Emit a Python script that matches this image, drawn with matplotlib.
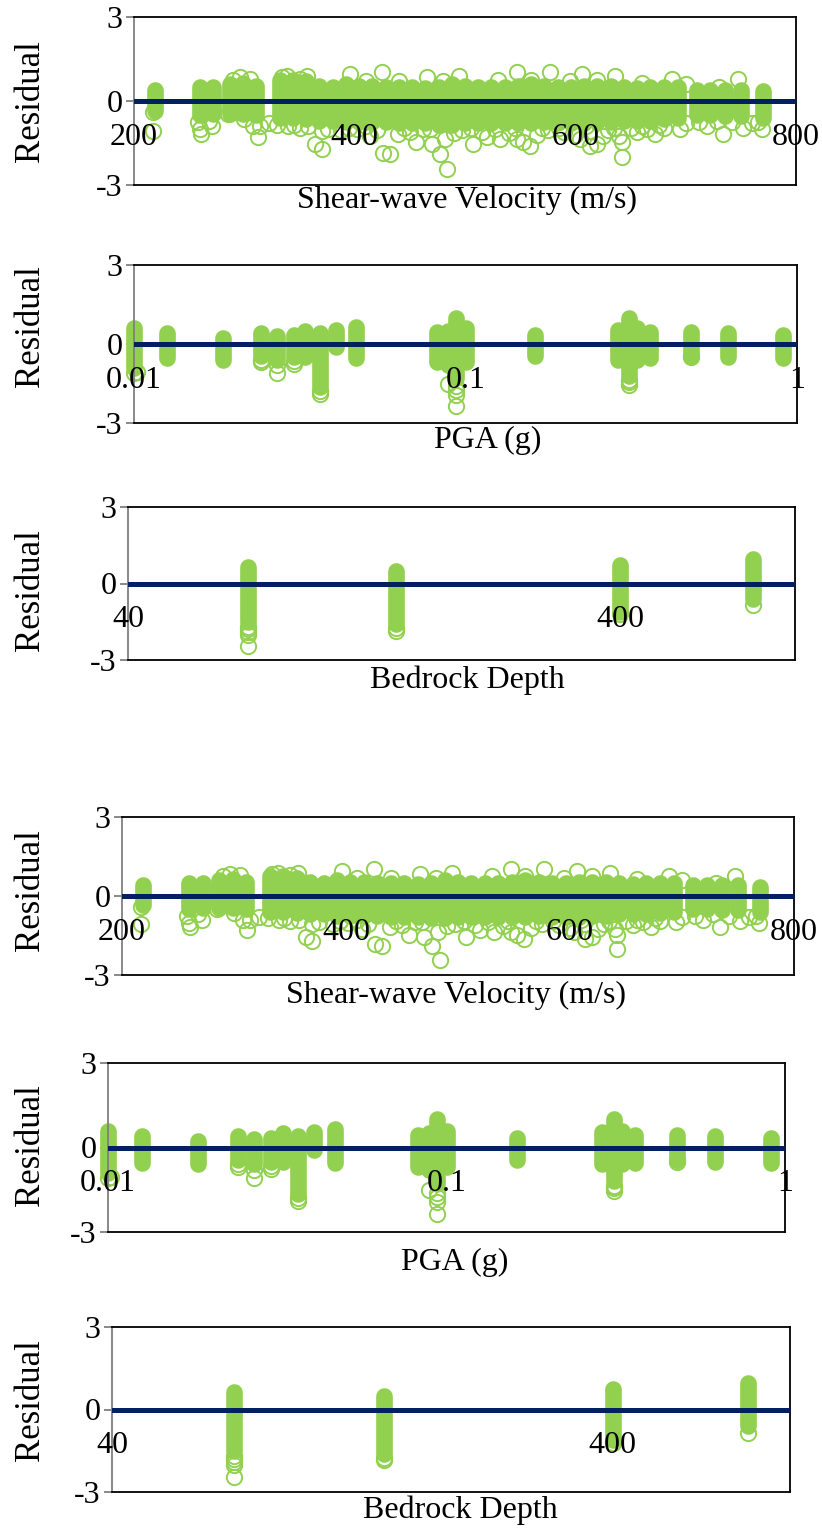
import numpy as np
import matplotlib
matplotlib.use("Agg")
from matplotlib import pyplot as plt

# ---- data ----
# shear-wave velocity panel: dense columns (centre, lowest, highest residual)
vs_col = [219, 260, 272, 287, 299, 311,
          332, 344, 356, 368, 380, 392, 404, 416, 428, 440,
          452, 464, 476, 488, 500, 512, 524, 536, 548, 560,
          572, 584, 596, 608, 620, 632, 644, 656, 668, 680, 693,
          710, 722, 736, 750, 770]
vs_hi = [0.4, 0.5, 0.5, 0.6, 0.65, 0.55,
         0.75, 0.75, 0.7, 0.55, 0.5, 0.6, 0.55, 0.55, 0.5, 0.5,
         0.5, 0.45, 0.5, 0.6, 0.55, 0.5, 0.5, 0.5, 0.55, 0.6,
         0.55, 0.5, 0.5, 0.55, 0.55, 0.55, 0.5, 0.45, 0.5, 0.5, 0.5,
         0.4, 0.4, 0.4, 0.4, 0.35]
vs_lo = [-0.35, -0.5, -0.45, -0.45, -0.45, -0.5,
         -0.6, -0.6, -0.65, -0.7, -0.7, -0.75, -0.75, -0.75, -0.75, -0.8,
         -0.8, -0.8, -0.85, -0.85, -0.8, -0.8, -0.8, -0.8, -0.8, -0.8,
         -0.75, -0.8, -0.8, -0.8, -0.75, -0.75, -0.7, -0.7, -0.7, -0.65, -0.6,
         -0.5, -0.5, -0.55, -0.55, -0.6]
# single circles standing out of the columns
vs_pt_x = [217, 217, 260, 261, 271, 285, 308, 312, 314, 364, 370, 370, 402, 414,
           426, 432, 439, 456, 470, 477, 482, 484, 507, 520, 532, 547, 553, 559,
           604, 613, 620, 625, 640, 642, 642, 656, 672, 719, 734, 752, 769,
           330, 340, 350, 376, 388, 420, 450, 462, 490, 497, 515, 540, 565, 575,
           590, 600, 630, 650, 665, 680, 695, 760, 712,
           258, 268, 300, 322, 345, 358, 395, 410, 445, 468, 505, 527, 545, 570,
           585, 610, 635, 660, 676, 700, 728, 742, 766,
           296, 339, 357, 396, 425, 466, 495, 547, 577, 606, 636, 688, 747,
           290, 305, 334, 350, 410, 440, 480, 530, 560, 595, 620, 660, 700, 730]
vs_pt_y = [-0.4, -1.07, -1.01, -1.19, -0.9, -0.48, -0.9, -1.3, -0.9, -1.55, -1.72, -1.08, -1.01, -1.26,
           -1.84, -1.9, -1.19, -1.48, -1.55, -1.9, -1.37, -2.44, -1.55, -1.3, -1.37, -1.37, -1.48, -1.62,
           -1.37, -1.62, -1.55, -1.26, -1.26, -1.48, -2.0, -1.12, -1.19, -0.9, -1.19, -0.95, -1.01,
           -0.85, -0.9, -0.95, -1.0, -1.05, -1.05, -1.1, -1.0, -1.15, -1.05, -1.1, -1.15, -1.2, -1.05,
           -1.1, -1.2, -1.05, -0.95, -1.0, -0.95, -1.0, -0.8, -0.75,
           -0.75, -0.7, -0.65, -0.8, -0.85, -0.9, -0.95, -0.9, -0.95, -1.0, -0.95, -1.0, -0.95, -0.95,
           -0.95, -0.9, -0.95, -0.9, -0.85, -0.8, -0.7, -0.75, -0.75,
           0.85, 0.88, 0.88, 0.95, 1.02, 0.85, 0.88, 1.02, 1.02, 0.95, 0.88, 0.77, 0.77,
           0.75, 0.8, 0.85, 0.8, 0.7, 0.7, 0.7, 0.75, 0.75, 0.7, 0.75, 0.65, 0.6, 0.5]

# PGA panel
pga_col = [0.0100, 0.0126, 0.0185, 0.0242, 0.0270, 0.0303, 0.0328, 0.0363, 0.0406, 0.0469,
           0.0822, 0.0886, 0.0935, 0.1005, 0.162, 0.288, 0.312, 0.330, 0.360, 0.480, 0.620, 0.910]
pga_hi = [0.6, 0.42, 0.22, 0.4, 0.3, 0.35, 0.5, 0.42, 0.55, 0.65,
          0.45, 0.5, 1.0, 0.6, 0.35, 0.55, 1.0, 0.6, 0.45, 0.45, 0.4, 0.35]
pga_lo = [-0.9, -0.55, -0.6, -0.45, -0.6, -0.5, -0.5, -1.65, -0.1, -0.55,
          -0.7, -0.8, -1.3, -0.7, -0.45, -0.6, -1.2, -0.6, -0.55, -0.4, -0.5, -0.55]
pga_pt_x = [0.0100, 0.0102, 0.0242, 0.0242, 0.0270, 0.0270, 0.0303, 0.0303, 0.0363, 0.0363,
            0.0886, 0.0935, 0.0935, 0.0935, 0.0935, 0.312, 0.312, 0.312, 0.480, 0.480]
pga_pt_y = [-1.1, -1.05, -0.7, -0.6, -0.8, -1.1, -0.65, -0.75, -1.8, -1.9,
            -1.5, -1.6, -1.75, -1.95, -2.35, -1.35, -1.45, -1.55, -0.5, -0.45]

# bedrock depth panel
bd_col = [70, 140, 400, 745]
bd_hi = [0.65, 0.5, 0.73, 0.95]
bd_lo = [-1.5, -1.6, -1.1, -0.6]
bd_pt_x = [70, 70, 70, 70, 70, 140, 140, 400, 745]
bd_pt_y = [-1.7, -1.8, -1.9, -2.0, -2.45, -1.75, -1.85, -1.2, -0.85]

vs_ticks, vs_labels = [200, 400, 600, 800], ["200", "400", "600", "800"]
pga_ticks, pga_labels = [0.01, 0.1, 1], ["0.01", "0.1", "1"]
bd_ticks, bd_labels = [40, 400], ["40", "400"]

GREEN = "#92D050"
NAVY = "#002060"
plt.rcParams["font.family"] = ["Liberation Serif", "DejaVu Serif"]

W, H = 822, 1533
fig = plt.figure(figsize=(W / 100, H / 100), dpi=100)


def panel(box, cols, lo, hi, px, py, xlim, ticks, labels, xlabel, xlab_at, ylab_at, log=False):
    l, t, r, b = box
    ax = fig.add_axes([l / W, 1 - b / H, (r - l) / W, (b - t) / H])
    if log:
        ax.set_xscale("log")
    ax.set_xlim(*xlim)
    ax.set_ylim(-3, 3)
    lc = ax.vlines(cols, lo, hi, color=GREEN, lw=12, zorder=2, clip_on=False)
    lc.set_capstyle("round")
    ax.plot(px, py, "o", ms=11, mfc="none", mec=GREEN, mew=1.4, ls="none", zorder=1, clip_on=False)
    ax.axhline(0, color=NAVY, lw=3.6, zorder=4)
    for s in ["top", "right", "bottom"]:
        ax.spines[s].set_color("black")
        ax.spines[s].set_linewidth(1.3)
    ax.spines["left"].set_color("#808080")
    ax.spines["left"].set_linewidth(1.3)
    ax.set_yticks([-3, 0, 3])
    ax.set_yticklabels(["-3", "0", "3"], fontsize=23)
    ax.tick_params(axis="y", length=6, width=1.3, color="#808080", pad=2)
    ax.set_xticks([])
    ax.minorticks_off()
    for tk, lb in zip(ticks, labels):
        ax.annotate(lb, (tk, 0), xytext=(0, -26), textcoords="offset points",
                    ha="center", va="center", fontsize=23, annotation_clip=False, zorder=5)
    fig.text(xlab_at[0] / W, 1 - xlab_at[1] / H, xlabel, ha="center", va="center", fontsize=23)
    fig.text(ylab_at[0] / W, 1 - ylab_at[1] / H, "Residual", ha="center", va="center",
             rotation=90, fontsize=25)
    return ax


for top in [True, False]:
    if top:
        boxes = [(134, 17, 796, 185), (134, 265, 797, 423), (128, 507, 795, 660)]
        xl = [(467, 200), (488, 440), (467, 680)]
        yl = [(30, 101), (30, 326), (30, 590)]
    else:
        boxes = [(122, 817, 794, 975), (108, 1063, 785, 1232), (112, 1327, 790, 1492)]
        xl = [(456, 995), (455, 1262), (460, 1510)]
        yl = [(30, 890), (30, 1145), (30, 1400)]
    panel(boxes[0], vs_col, vs_lo, vs_hi, vs_pt_x, vs_pt_y, (200, 800), vs_ticks, vs_labels,
          "Shear-wave Velocity (m/s)", xl[0], yl[0])
    panel(boxes[1], pga_col, pga_lo, pga_hi, pga_pt_x, pga_pt_y, (0.01, 1), pga_ticks, pga_labels,
          "PGA (g)", xl[1], yl[1], log=True)
    panel(boxes[2], bd_col, bd_lo, bd_hi, bd_pt_x, bd_pt_y, (40, 905), bd_ticks, bd_labels,
          "Bedrock Depth", xl[2], yl[2], log=True)

fig.savefig("out.png", dpi=100)
